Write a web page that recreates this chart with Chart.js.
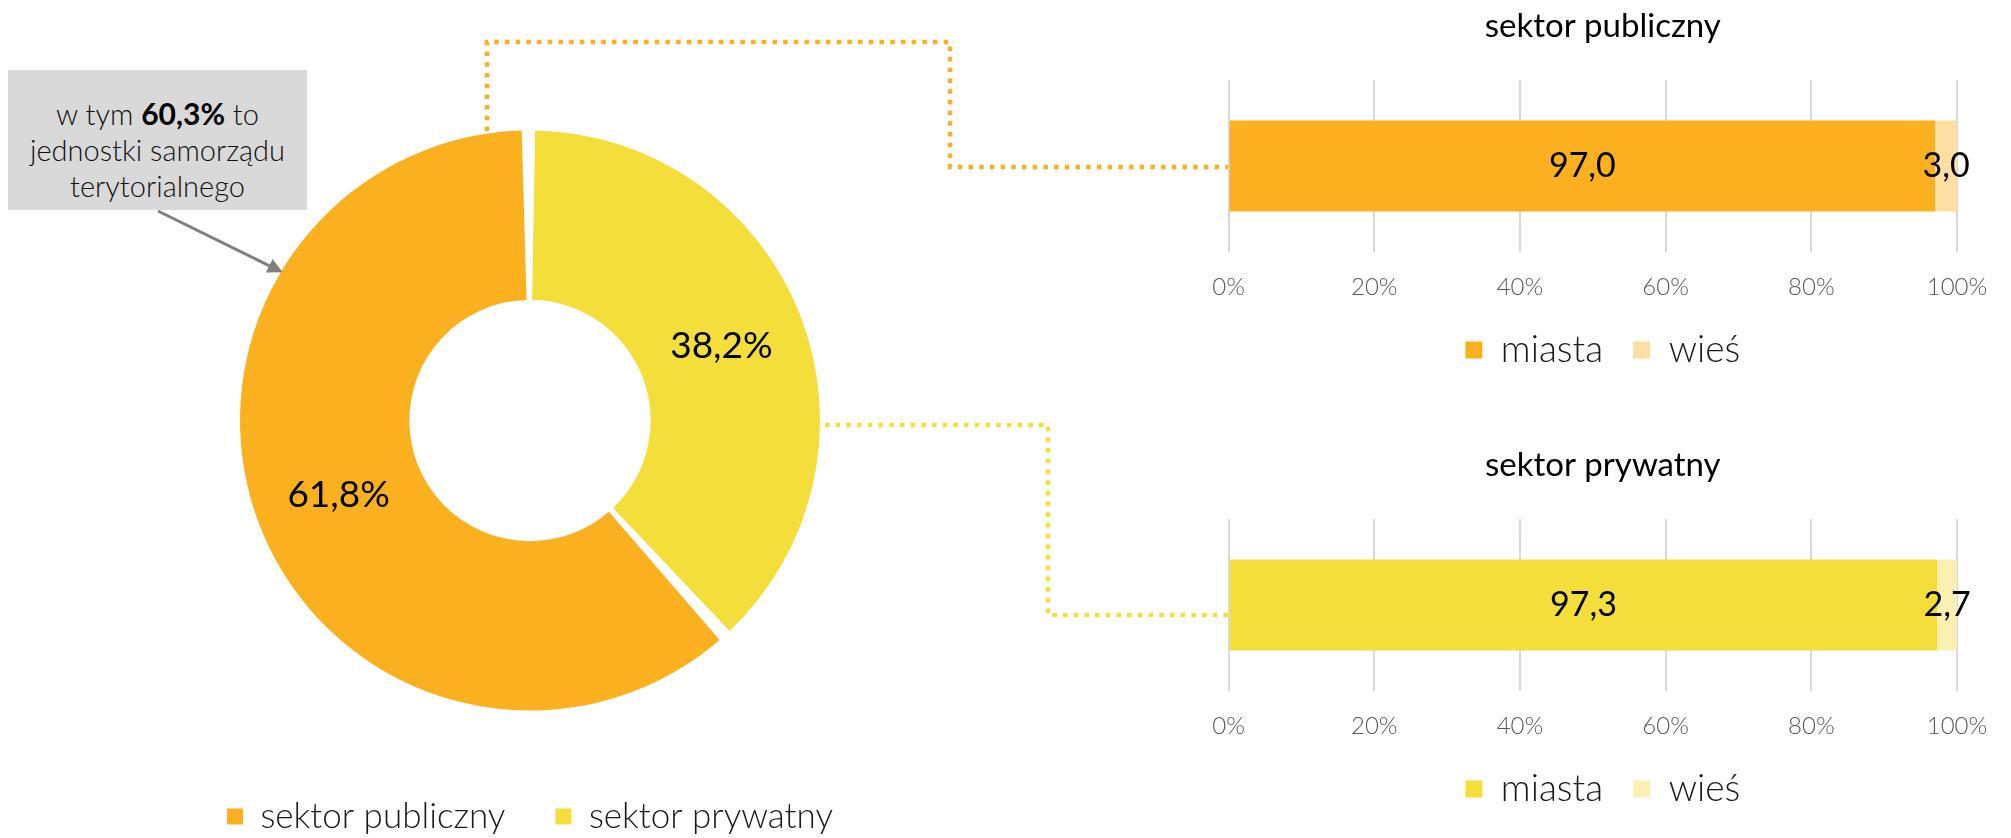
<!DOCTYPE html>
<html lang="pl">
<head>
<meta charset="utf-8">
<title>Sektor publiczny i prywatny</title>
<script src="https://cdn.jsdelivr.net/npm/chart.js@4.4.1/dist/chart.umd.min.js"></script>
<style>
  html, body { margin: 0; padding: 0; background: #fff; overflow: hidden; }
  body { width: 2011px; height: 838px; position: relative; font-family: Lato, "Open Sans", sans-serif; }
  .box { position: absolute; }
  #callout {
    position: absolute; left: 8px; top: 70px; width: 299px; height: 140px;
    background: #d9d9d9; box-sizing: border-box; padding-top: 25px;
    text-align: center; font-size: 29px; line-height: 36px; color: #111; font-weight: 300;
  }
  #callout b { font-size: 30px; font-weight: 700; color: #000; }
  svg { position: absolute; left: 0; top: 0; pointer-events: none; }
</style>
</head>
<body>
<div class="box" style="left:0;top:0;width:1060px;height:844px"><canvas id="donut"></canvas></div>
<div class="box" style="left:1200px;top:0;width:811px;height:399px"><canvas id="barPublic"></canvas></div>
<div class="box" style="left:1200px;top:439px;width:811px;height:399px"><canvas id="barPrivate"></canvas></div>

<svg width="2011" height="838">
  <defs>
    <marker id="head" markerWidth="5" markerHeight="5" refX="4" refY="2.5" orient="auto" markerUnits="strokeWidth">
      <path d="M0,0 L5,2.5 L0,5 z" fill="#7f7f7f"/>
    </marker>
  </defs>
  <!-- connectors from the donut to the bar charts -->
  <polyline points="487,131 487,42 950,42 950,167 1228,167" fill="none" stroke="#fbb01f" stroke-width="4.5" stroke-dasharray="4.5 6.2"/>
  <polyline points="825,425 1048,425 1048,615 1228,615" fill="none" stroke="#f3de3a" stroke-width="4.5" stroke-dasharray="4.5 6.2"/>
  <!-- callout arrow -->
  <line x1="158" y1="211" x2="280" y2="271" stroke="#7f7f7f" stroke-width="3" marker-end="url(#head)"/>
</svg>
<div id="callout">w tym <b>60,3%</b> to<br>jednostki samorządu<br>terytorialnego</div>

<script>
// data
const sectors = ['sektor publiczny', 'sektor prywatny'];
const sectorShares = [61.8, 38.2];
const areas = ['miasta', 'wieś'];
const publicAreaShares = [97.0, 3.0];
const privateAreaShares = [97.3, 2.7];
const percentTicks = [0, 20, 40, 60, 80, 100];

// colours
const sectorColors = ['#fbb01f', '#f3de3a'];
const publicAreaColors = ['#fbb01f', '#fddfa4'];
const privateAreaColors = ['#f3de3a', '#faf0b2'];

const fmt = v => v.toFixed(1).replace('.', ',');

//Labels inside the donut slices
const donutLabels = {
  id: 'donutLabels',
  afterDatasetsDraw(chart) {
    const ctx = chart.ctx;
    const ds = chart.data.datasets[0];
    ctx.save();
    ctx.font = '37px Lato';
    ctx.fillStyle = '#000';
    ctx.textAlign = 'center';
    ctx.textBaseline = 'middle';
    chart.getDatasetMeta(0).data.forEach((arc, i) => {
      const p = arc.tooltipPosition();
      ctx.fillText(fmt(ds.data[i]) + '%', p.x, p.y);
    });
    ctx.restore();
  }
};

//Labels in the middle of each bar segment
const barLabels = {
  id: 'barLabels',
  afterDatasetsDraw(chart) {
    const ctx = chart.ctx;
    ctx.save();
    ctx.font = '34px Lato';
    ctx.fillStyle = '#000';
    ctx.textAlign = 'center';
    ctx.textBaseline = 'middle';
    chart.data.datasets.forEach((ds, di) => {
      chart.getDatasetMeta(di).data.forEach((bar, i) => {
        ctx.fillText(fmt(ds.data[i]), (bar.x + bar.base) / 2, bar.y);
      });
    });
    ctx.restore();
  }
};

// the private sector slice starts at 12 o'clock, public one follows it
const total = sectorShares.reduce((a, b) => a + b, 0);

new Chart(document.getElementById('donut'), {
  type: 'doughnut',
  data: {
    labels: sectors,
    datasets: [{
      data: sectorShares,
      backgroundColor: sectorColors,
      borderWidth: 0,
      spacing: 6
    }]
  },
  options: {
    responsive: true,
    maintainAspectRatio: false,
    animation: false,
    rotation: sectorShares[1] / total * 360,
    radius: 287,
    cutout: '41%',
    layout: { padding: { left: 0, right: 0, top: 92, bottom: 0 } },
    plugins: {
      legend: {
        position: 'bottom',
        labels: {
          boxWidth: 16, boxHeight: 16, padding: 50, color: '#1a1a1a',
          font: { family: 'Lato', size: 35, weight: 300 }
        }
      },
      tooltip: { enabled: false }
    }
  },
  plugins: [donutLabels]
});

function makeBar(id, title, values, colors) {
  return new Chart(document.getElementById(id), {
    type: 'bar',
    data: {
      labels: [title],
      datasets: areas.map((a, i) => ({
        label: a,
        data: [values[i]],
        backgroundColor: colors[i],
        barPercentage: 0.53,
        categoryPercentage: 1
      }))
    },
    options: {
      indexAxis: 'y',
      responsive: true,
      maintainAspectRatio: false,
      animation: false,
      layout: { padding: { left: 28.6, right: 34, top: 0, bottom: 20.5 } },
      scales: {
        x: {
          stacked: true, min: 0, max: 100,
          afterBuildTicks: axis => { axis.ticks = percentTicks.map(v => ({ value: v })); },
          afterFit: s => { s.height = 49.4; s.paddingLeft = 0; s.paddingRight = 0; },
          grid: { color: '#d9d9d9', lineWidth: 2, drawTicks: false },
          border: { display: false },
          ticks: {
            padding: 20.6, color: '#595959',
            font: { family: 'Lato', size: 24, weight: 300 },
            callback: v => v + '%'
          }
        },
        y: {
          stacked: true, position: 'right',
          grid: { display: false }, border: { display: false },
          ticks: { display: false },
          afterFit: s => { s.width = 20; }
        }
      },
      plugins: {
        title: {
          display: true, text: title, color: '#000',
          font: { family: 'Lato', size: 33, weight: 400 },
          padding: { top: 6.2, bottom: 34.2 }
        },
        legend: {
          position: 'bottom',
          labels: {
            boxWidth: 17, boxHeight: 17, padding: 30.1, color: '#1a1a1a',
            font: { family: 'Lato', size: 37, weight: 300 }
          }
        },
        tooltip: { enabled: false }
      }
    },
    plugins: [barLabels]
  });
}

makeBar('barPublic', sectors[0], publicAreaShares, publicAreaColors);
makeBar('barPrivate', sectors[1], privateAreaShares, privateAreaColors);
</script>
</body>
</html>
